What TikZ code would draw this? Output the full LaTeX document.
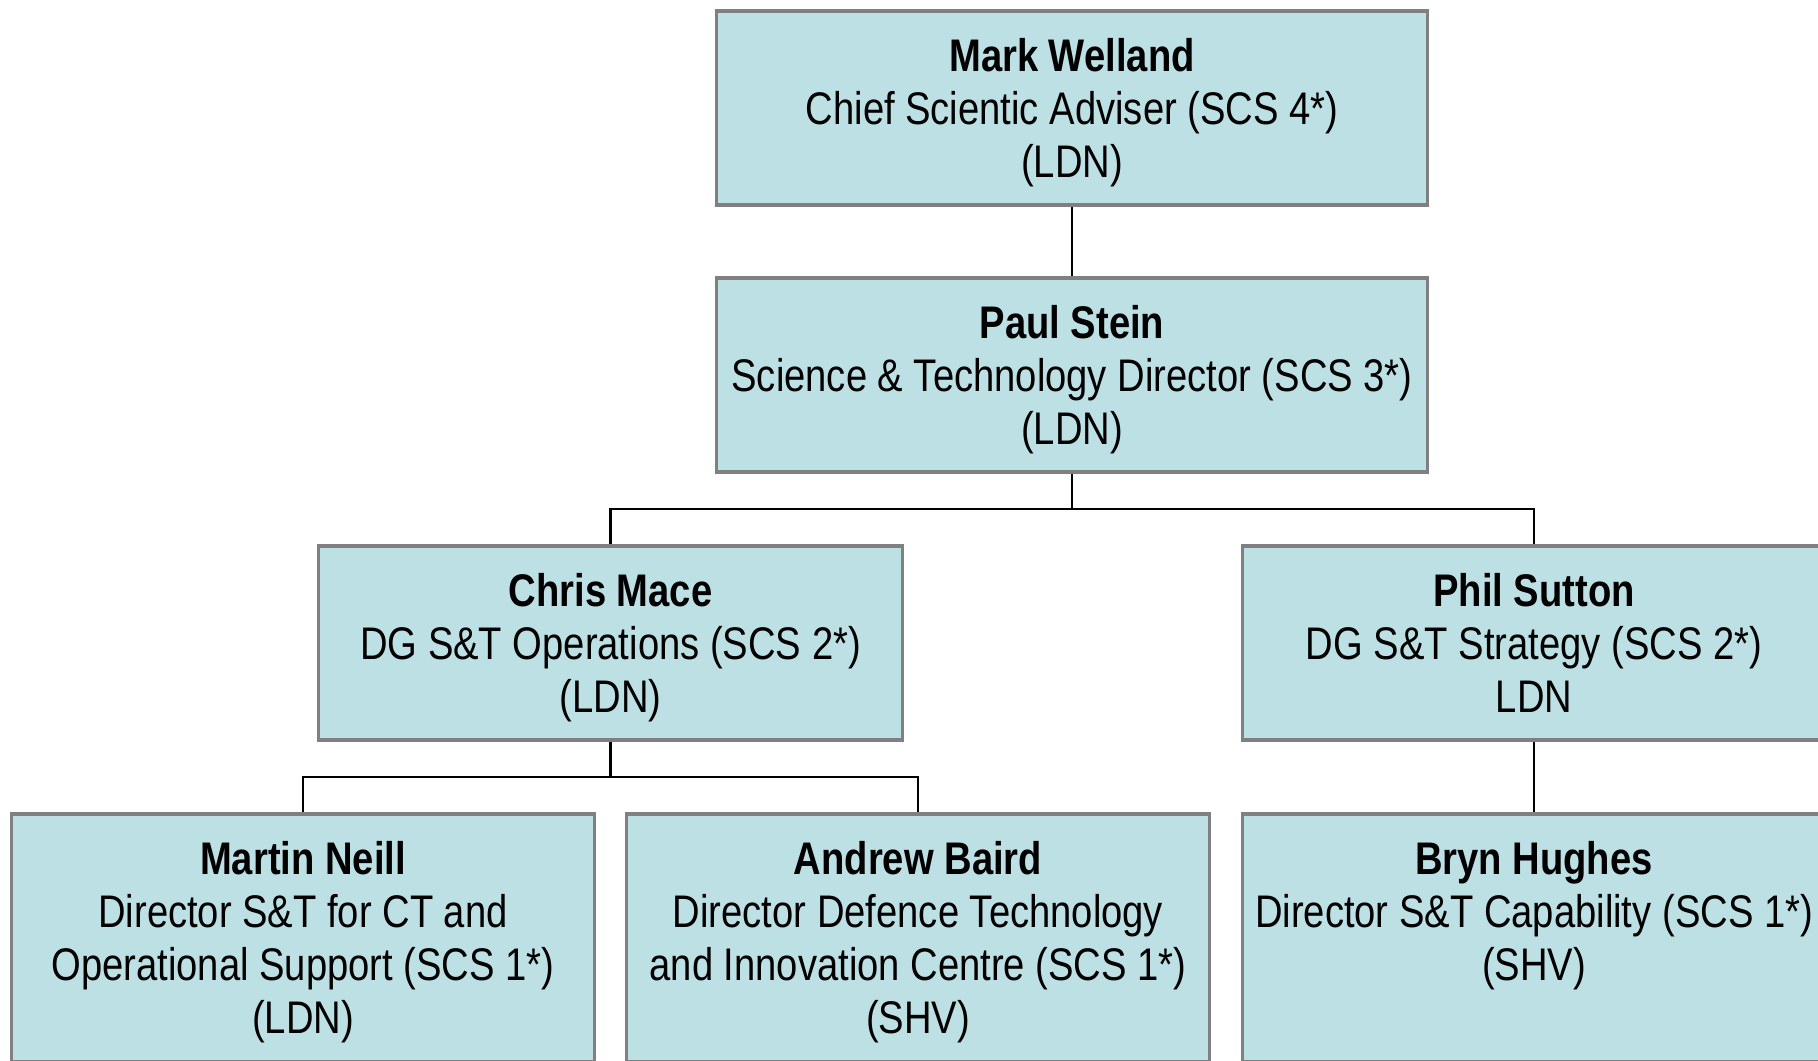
\documentclass[tikz,border=0pt]{standalone}
\usepackage{fontspec}
\setmainfont[FakeStretch=0.835]{Liberation Sans}
\usepackage{tikz}
\definecolor{boxfill}{RGB}{188,224,228}
\definecolor{boxline}{RGB}{128,128,128}
\newcommand\pname[1]{\rule{0pt}{12.1pt}\textbf{#1}}

\begin{document}
\begin{tikzpicture}[x=0.01cm, y=-0.01cm,
		person/.style={draw=boxline, line width=0.9pt, fill=boxfill, align=center, inner sep=0pt,
			minimum width=5.83cm, minimum height=1.94cm, font=\fontsize{13}{15.1}\selectfont,
			execute at end node={\rule[-2.7pt]{0pt}{2.7pt}}},
		wide/.style={minimum width=7.11cm},
		tall/.style={minimum height=2.47cm},
		line/.style={black, line width=0.65pt}
		]
		\useasboundingbox (0,0) rectangle (1818,1060);
		\clip (0,0) rectangle (1818,1060);
		
		% Nodes
		\node[person, wide] (welland) at (1072,108) {\pname{Mark Welland}\\Chief Scientic Adviser (SCS 4*)\\(LDN)};
		\node[person, wide] (stein) at (1072,375) {\pname{Paul Stein}\\Science \& Technology Director (SCS 3*)\\(LDN)};
		\node[person] (mace) at (610.5,643) {\pname{Chris Mace}\\DG S\&T Operations (SCS 2*)\\(LDN)};
		\node[person] (sutton) at (1534,643) {\pname{Phil Sutton}\\DG S\&T Strategy (SCS 2*)\\LDN};
		\node[person, tall] (neill) at (303,937.5) {\pname{Martin Neill}\\Director S\&T for CT and\\Operational Support (SCS 1*)\\(LDN)};
		\node[person, tall] (baird) at (918,937.5) {\pname{Andrew Baird}\\Director Defence Technology\\and Innovation Centre (SCS 1*)\\(SHV)};
		\node[person, tall] (hughes) at (1534,937.5) {\pname{Bryn Hughes}\\Director S\&T Capability (SCS 1*)\\(SHV)\\~};
		
		% Lines
		\coordinate (busa) at (1072,509);
		\coordinate (busb) at (610.5,777);
		\draw[line] (welland) -- (stein);
		\draw[line] (stein.south) -- (busa);
		\draw[line] (mace.north) |- (busa) -| (sutton.north);
		\draw[line] (mace.south) -- (busb);
		\draw[line] (neill.north) |- (busb) -| (baird.north);
		\draw[line] (sutton) -- (hughes);
		
	\end{tikzpicture}
\end{document}
